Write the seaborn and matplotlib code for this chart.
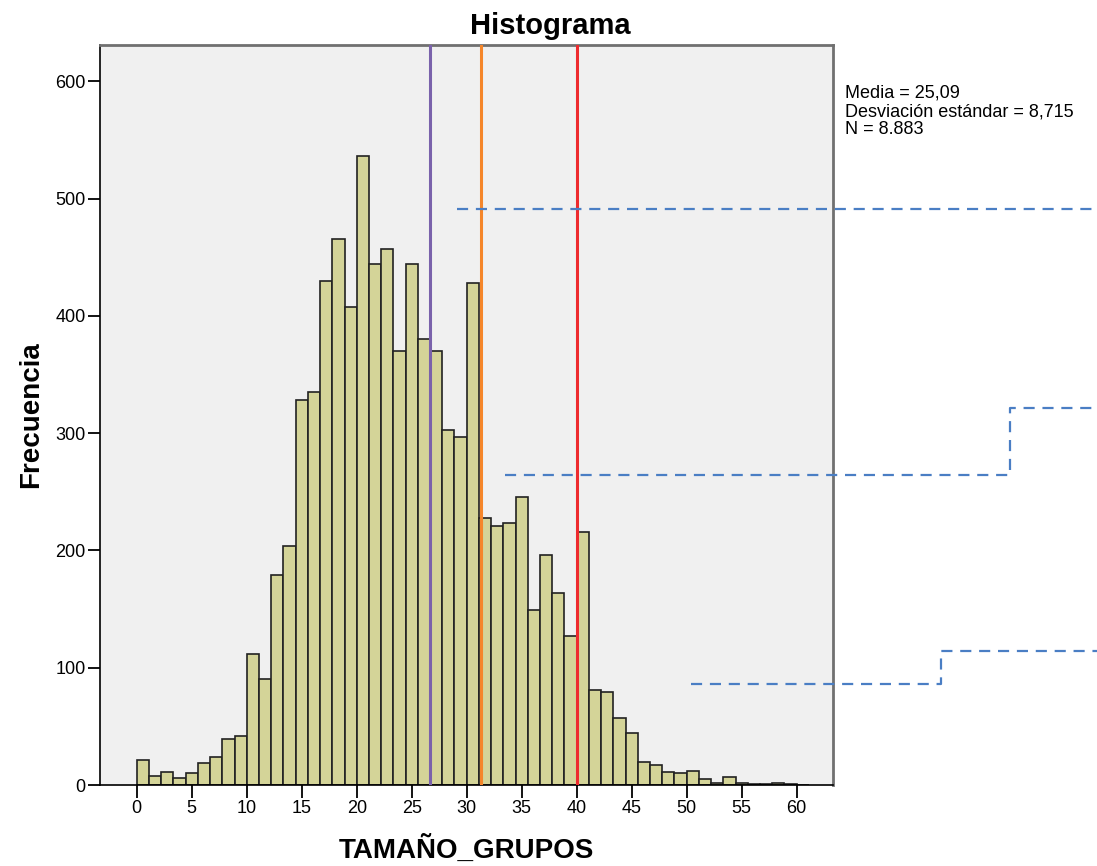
import numpy as np
import pandas as pd
import matplotlib
matplotlib.use("Agg")
import matplotlib.pyplot as plt
import seaborn as sns

# bin counts (bin width 10/9, starting at 0)
bin_width = 10 / 9
counts = [21, 8, 11, 6, 10, 19, 24, 39, 42, 112,
          90, 179, 204, 328, 335, 430, 466, 408, 536, 444,
          457, 370, 444, 380, 370, 303, 297, 428, 228, 221,
          223, 246, 149, 196, 164, 127, 216, 81, 79, 57,
          44, 20, 17, 11, 10, 12, 5, 2, 7, 2,
          1, 1, 2, 1, 0]
edges = [i * bin_width for i in range(len(counts) + 1)]
centers = [e + bin_width / 2 for e in edges[:-1]]

# reference lines
vlines = [26.7, 31.3, 40.0]
vline_colors = ["#7a62ab", "#f5862a", "#ee2b2e"]

# dashed guide lines (data units, run past the plot frame)
guide_a_x = [29.1, 87.3]
guide_a_y = [491, 491]
guide_b_x = [33.5, 79.4, 79.4, 87.3]
guide_b_y = [264.5, 264.5, 321.6, 321.6]
guide_c_x = [50.4, 73.1, 73.1, 87.3]
guide_c_y = [86.4, 86.4, 114.5, 114.5]

stats_text = "Media = 25,09\nDesviación estándar = 8,715\nN = 8.883"

df = pd.DataFrame({"TAMAÑO_GRUPOS": centers, "n": counts})

sns.set_style("white")
plt.rcParams['font.family'] = ['Liberation Sans', 'DejaVu Sans']
plt.rcParams['text.color'] = 'black'
plt.rcParams['axes.labelcolor'] = 'black'

fig = plt.figure(figsize=(10.97, 8.66), dpi=100)
ax = fig.add_axes([100 / 1097, 1 - 785 / 866, 733 / 1097, 740 / 866])
ax.set_facecolor("#f0f0f0")

sns.histplot(data=df, x="TAMAÑO_GRUPOS", weights="n", bins=edges, ax=ax,
             color="#d4d498", alpha=1, edgecolor="#222222", linewidth=1.2)

for xv, c in zip(vlines, vline_colors):
    ax.axvline(xv, color=c, linewidth=2.2, zorder=5)

for gx, gy in [(guide_a_x, guide_a_y), (guide_b_x, guide_b_y), (guide_c_x, guide_c_y)]:
    ax.plot(gx, gy, color="#4a7ec4", linewidth=1.6, linestyle=(0, (5, 3.5)),
            clip_on=False, zorder=6)

ax.set_xlim(-3.34, 63.3)
ax.set_ylim(0, 631)
ax.set_xticks(range(0, 61, 5))
ax.set_yticks(range(0, 601, 100))
ax.tick_params(axis="both", direction="out", length=9, width=1.3, labelsize=13,
               colors="black", bottom=True, left=True, pad=1.5)

for side in ["left", "bottom"]:
    ax.spines[side].set_color("black")
    ax.spines[side].set_linewidth(1.2)
for side in ["top", "right"]:
    ax.spines[side].set_color("#707070")
    ax.spines[side].set_linewidth(2)

fig.text(550 / 1097, 1 - 34 / 866, "Histograma", fontsize=21, fontweight="bold",
         ha="center", va="baseline")
ax.set_xlabel("TAMAÑO_GRUPOS", fontsize=20, fontweight="bold", labelpad=14)
ax.set_ylabel("Frecuencia", fontsize=20, fontweight="bold", labelpad=8)

fig.text(845 / 1097, 1 - 85 / 866, stats_text, fontsize=13, va="top", ha="left",
         linespacing=1.08)

fig.savefig("out.png", dpi=100)
